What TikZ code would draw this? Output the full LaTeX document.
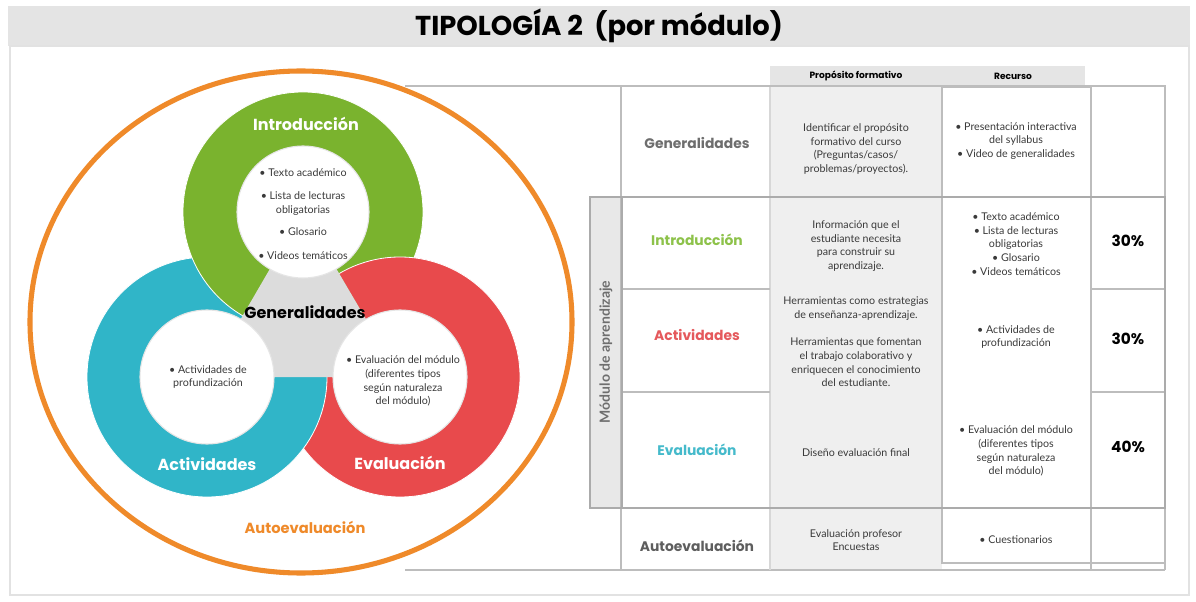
\documentclass[tikz,border=0pt]{standalone}
\usepackage{fontspec}
\setmainfont{Lato}
\newfontfamily\popfont{Poppins}
\definecolor{ringgreen}{HTML}{7AB32E}
\definecolor{ringteal}{HTML}{30B5C8}
\definecolor{ringred}{HTML}{E84A4C}
\definecolor{orng}{HTML}{EF8A2A}
\definecolor{centergray}{HTML}{DCDCDC}
\definecolor{linegray}{HTML}{BDBDBD}
\definecolor{boxgray}{HTML}{ABABAB}
\definecolor{colgray}{HTML}{EFEFEF}
\definecolor{hdrgray}{HTML}{E5E5E5}
\definecolor{stripgray}{HTML}{E8E8E8}
\definecolor{titlegray}{HTML}{E4E4E4}
\definecolor{panelgray}{HTML}{E2E2E2}
\definecolor{lblgray}{HTML}{6E6E6E}
\definecolor{lblgreen}{HTML}{8DC24A}
\definecolor{lblred}{HTML}{E5595C}
\definecolor{lblteal}{HTML}{45BACB}
\definecolor{txtgray}{HTML}{3A3A3A}
\begin{document}
\begin{tikzpicture}[x=0.75pt,y=-0.75pt,
  gridline/.style={draw=linegray, line width=1.1pt},
  modline/.style={draw=boxgray, line width=2pt},
  bodytext/.style={font=\fontsize{8}{10.3}\selectfont, align=center, text=txtgray, inner sep=0pt},
  rowlabel/.style={font=\popfont\bfseries\fontsize{10.4}{12}\selectfont, inner sep=0pt},
  pcttext/.style={font=\popfont\bfseries\fontsize{11.5}{13}\selectfont, inner sep=0pt},
  ringlabel/.style={font=\popfont\bfseries\fontsize{12}{14}\selectfont, text=white, inner sep=0pt},
  headtext/.style={font=\popfont\bfseries\fontsize{6.8}{8}\selectfont, inner sep=0pt},
  ringfill/.style={draw=white, line width=0.6pt},
  innerdisk/.style={fill=white, draw=black!10, line width=0.8pt},
]
\useasboundingbox (0,0) rectangle (1196,602);
\fill[white] (0,0) rectangle (1196,602);
% title bar and panel
\fill[titlegray] (8,6) rectangle (1190,46);
\node[font=\popfont\bfseries\fontsize{20.5}{24}\selectfont, inner sep=0pt] (title) at (599,26) {TIPOLOGÍA 2\ \ (por módulo)};
\draw[draw=panelgray, line width=2pt, fill=white] (10,46) rectangle (1189,595);

% orange outer ellipse
\draw[orng, line width=3.8pt] (301,322) ellipse [x radius=271, y radius=251];

% ring centres
\coordinate (G) at (303,212);
\coordinate (T) at (207,377);
\coordinate (R) at (400,377);

% rings (cyclic overlap)
\fill[ringred, ringfill] (R) circle [radius=120];
\fill[ringteal, ringfill] (T) circle [radius=120];
\fill[ringgreen, ringfill] (G) circle [radius=120];
\begin{scope}
  \clip (109,-118) -- (594,707) -- (900,707) -- (900,-118) -- cycle;
  \fill[ringred, ringfill] (R) circle [radius=120];
\end{scope}
% centre triangle
\fill[centergray] (G) -- (T) -- (R) -- cycle;
% inner disks
\fill[innerdisk] (G) circle [radius=66];
\fill[innerdisk] (T) circle [radius=67];
\fill[innerdisk] (R) circle [radius=67];

% ring labels
\node[ringlabel] (lintro) at (306,124) {Introducción};
\node[ringlabel] (lact) at (207,464) {Actividades};
\node[ringlabel] (leval) at (400,463) {Evaluación};
\node[font=\popfont\bfseries\fontsize{12}{14}\selectfont, inner sep=0pt] (lgen) at (305,312) {Generalidades};
\node[font=\popfont\bfseries\fontsize{11}{13}\selectfont, text=orng, inner sep=0pt] (lauto) at (305,527) {Autoevaluación};

% inner disk texts
\node[bodytext] (cintro) at (303,214) {• Texto académico\\[7pt] • Lista de lecturas\\ obligatorias\\[6.5pt] • Glosario\\[7pt] • Videos temáticos};
\node[bodytext] (cact) at (208,377) {• Actividades de\\ profundización};
\node[bodytext] (ceval) at (403,381) {• Evaluación del módulo\\ (diferentes tipos\\ según naturaleza\\ del módulo)};

% ===== table =====
\fill[colgray] (770,87) rectangle (942,570);
\fill[hdrgray] (770,66) rectangle (942,87);
\fill[hdrgray] (942,66) rectangle (1085,87);
\fill[stripgray] (590,197) rectangle (622,508);
\draw[gridline] (405,86) -- (1165,86) -- (1165,570);
\draw[gridline] (405,570) -- (1165,570);
\draw[gridline] (621,86) -- (621,570);
\draw[gridline, draw=linegray!60] (770,87) -- (770,570);
\draw[gridline] (942,87) -- (942,563) -- (1165,563);
\draw[gridline] (942,87) -- (1091,87) -- (1091,570);
\draw[gridline] (622,289) -- (770,289);
\draw[gridline] (1091,289) -- (1165,289);
\draw[gridline] (622,392) -- (770,392);
\draw[gridline] (1091,392) -- (1165,392);
\draw[modline] (590,197) rectangle (1165,508);
\draw[modline] (622,197) -- (622,508);

% headers
\node[headtext] (hprop) at (856,76) {Propósito formativo};
\node[headtext] (hrec) at (1013,76) {Recurso};

% module label
\node[font=\bfseries\fontsize{10.5}{12}\selectfont, text=lblgray, rotate=90, inner sep=0pt] (modlbl) at (606,352) {Módulo de aprendizaje};

% row labels
\node[rowlabel, text=lblgray] (rgen) at (697,143) {Generalidades};
\node[rowlabel, text=lblgreen] (rintro) at (697,240) {Introducción};
\node[rowlabel, text=lblred] (ract) at (697,335) {Actividades};
\node[rowlabel, text=lblteal] (reval) at (697,450) {Evaluación};
\node[rowlabel, text=lblgray!85!black] (rauto) at (697,546) {Autoevaluación};

% proposito column
\node[bodytext] (pgen) at (856,149) {Identificar el propósito\\ formativo del curso\\ (Preguntas/casos/\\ problemas/proyectos).};
\node[bodytext] (pintro) at (856,246) {Información que el\\ estudiante necesita\\ para construir su\\ aprendizaje.};
\node[bodytext] (pact) at (856,342) {Herramientas como estrategias\\ de enseñanza-aprendizaje.\\[10pt] Herramientas que fomentan\\ el trabajo colaborativo y\\ enriquecen el conocimiento\\ del estudiante.};
\node[bodytext] (peval) at (856,453) {Diseño evaluación final};
\node[bodytext] (pauto) at (856,540) {Evaluación profesor\\ Encuestas};

% recurso column
\node[bodytext] (sgen) at (1016,141) {• Presentación interactiva\\ del syllabus\\ • Video de generalidades};
\node[bodytext] (sintro) at (1016,244) {• Texto académico\\ • Lista de lecturas\\ obligatorias\\ • Glosario\\ • Videos temáticos};
\node[bodytext] (sact) at (1016,337) {• Actividades de\\ profundización};
\node[bodytext] (seval) at (1016,451) {• Evaluación del módulo\\ (diferentes tipos\\ según naturaleza\\ del módulo)};
\node[bodytext] (sauto) at (1016,540) {• Cuestionarios};

% percentages
\node[pcttext] (pc1) at (1128,241) {30\%};
\node[pcttext] (pc2) at (1128,339) {30\%};
\node[pcttext] (pc3) at (1128,447) {40\%};
\end{tikzpicture}
\end{document}
